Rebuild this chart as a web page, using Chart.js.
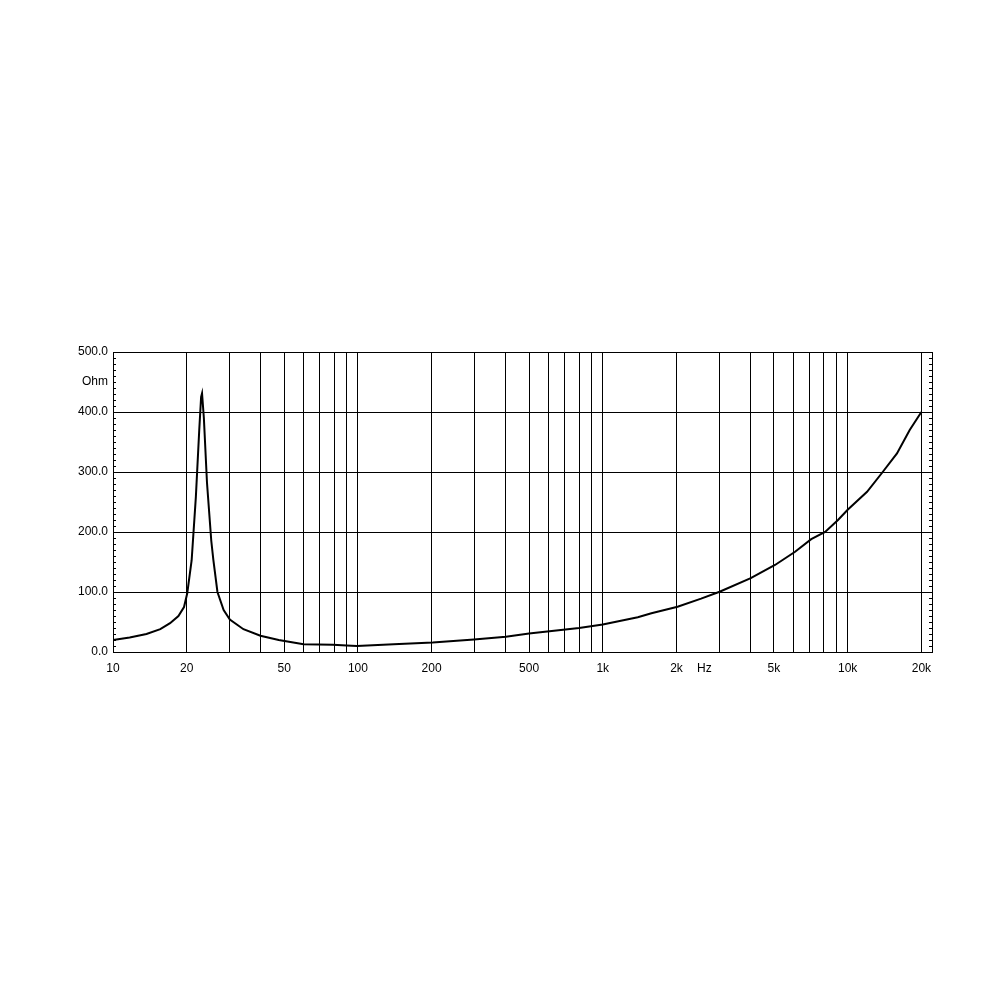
<!DOCTYPE html>
<html>
<head>
<meta charset="utf-8">
<script src="https://cdn.jsdelivr.net/npm/chart.js@4"></script>
<style>
  html, body { margin: 0; padding: 0; background: #fff; }
  canvas { display: block; }
</style>
</head>
<body>
<canvas id="c" width="1000" height="1000"></canvas>
<script>
// Impedance curve (frequency in Hz, impedance in Ohm)
const freqHz = [10, 11.7, 13.7, 15.6, 17.1, 18.5, 19.5, 20.1, 20.95, 21.8, 22.5, 22.9, 23.1, 23.5, 24.2, 25.2, 25.7, 26.7, 28.3, 30, 34.1, 40, 47.5, 60, 79, 90, 99, 140, 202, 298, 402, 500, 800, 1000, 1390, 1580, 2020, 2520, 3000, 4020, 5050, 6100, 7100, 8090, 9130, 10000, 12000, 13900, 15900, 17920, 20000];
const ohms   = [20, 24, 30, 38, 48, 60, 75, 98, 153, 259, 370, 425, 431, 390, 282, 185, 153, 100, 70, 54, 38, 27, 20, 13, 12, 11, 10, 13, 16, 21, 25.5, 31, 40, 46, 58, 64.5, 75.5, 89, 100.5, 123, 145, 167, 188, 200, 220, 237, 267, 300, 331, 370, 400];

// Axis ticks
const xTickValues = [10, 20, 30, 40, 50, 60, 70, 80, 90, 100, 200, 300, 400, 500, 600, 700, 800, 900, 1000, 2000, 2600, 3000, 4000, 5000, 6000, 7000, 8000, 9000, 10000, 20000];
const xTickLabels = ['10', '20', '', '', '50', '', '', '', '', '100', '200', '', '', '500', '', '', '', '', '1k', '2k', 'Hz', '', '', '5k', '', '', '', '', '10k', '20k'];
const xNoGrid = [2600];
const xRange = [10, 22100];
const yRange = [0, 500];
const yMajorStep = 100;
const yMinorStep = 10;
const yUnitValue = 450;
const yUnitLabel = 'Ohm';

const points = freqHz.map((f, i) => ({ x: f, y: ohms[i] }));
const FONT = { family: '"Liberation Sans", Arial, sans-serif', size: 12 };

const framePlugin = {
  id: 'frame',
  afterDraw(chart) {
    const { ctx, chartArea: a, scales } = chart;
    const y = scales.y;
    ctx.save();
    ctx.strokeStyle = '#000';
    ctx.lineWidth = 1;
    ctx.strokeRect(Math.round(a.left) + 0.5, Math.round(a.top) + 0.5, Math.round(a.right - a.left), Math.round(a.bottom - a.top));
    ctx.beginPath();
    for (let v = yRange[0]; v <= yRange[1]; v += yMinorStep) {
      const py = Math.round(y.getPixelForValue(v)) + 0.5;
      ctx.moveTo(a.left, py); ctx.lineTo(a.left + 3, py);
      ctx.moveTo(a.right - 3, py); ctx.lineTo(a.right, py);
    }
    ctx.stroke();
    ctx.restore();
  }
};

new Chart(document.getElementById('c'), {
  type: 'line',
  data: {
    datasets: [{
      data: points,
      borderColor: '#000',
      borderWidth: 2,
      pointRadius: 0,
      tension: 0,
      fill: false
    }]
  },
  options: {
    responsive: false,
    devicePixelRatio: 1,
    animation: false,
    layout: { padding: { left: 0, top: 352, right: 68, bottom: 318 } },
    plugins: { legend: { display: false }, tooltip: { enabled: false } },
    scales: {
      x: {
        type: 'logarithmic',
        min: xRange[0],
        max: xRange[1],
        bounds: 'data',
        afterBuildTicks(scale) { scale.ticks = xTickValues.map(v => ({ value: v })); },
        afterFit(scale) { scale.height = 30; },
        grid: {
          drawTicks: false,
          color: ctx => (ctx.tick && xNoGrid.includes(ctx.tick.value)) ? 'rgba(0,0,0,0)' : '#000',
          lineWidth: 1
        },
        border: { color: '#000' },
        ticks: {
          autoSkip: false,
          maxRotation: 0,
          minRotation: 0,
          padding: 9,
          color: '#000',
          font: FONT,
          callback: (v, i) => xTickLabels[i]
        }
      },
      y: {
        type: 'linear',
        min: yRange[0],
        max: yRange[1],
        afterFit(scale) { scale.width = 113; },
        grid: {
          drawTicks: false,
          color: ctx => (ctx.tick && ctx.tick.value % yMajorStep === 0) ? '#000' : 'rgba(0,0,0,0)',
          lineWidth: 1
        },
        border: { color: '#000' },
        ticks: {
          stepSize: 50,
          padding: 5,
          color: '#000',
          font: FONT,
          callback: v => v === yUnitValue ? yUnitLabel : (v % yMajorStep === 0 ? v.toFixed(1) : '')
        }
      }
    }
  },
  plugins: [framePlugin]
});
</script>
</body>
</html>
